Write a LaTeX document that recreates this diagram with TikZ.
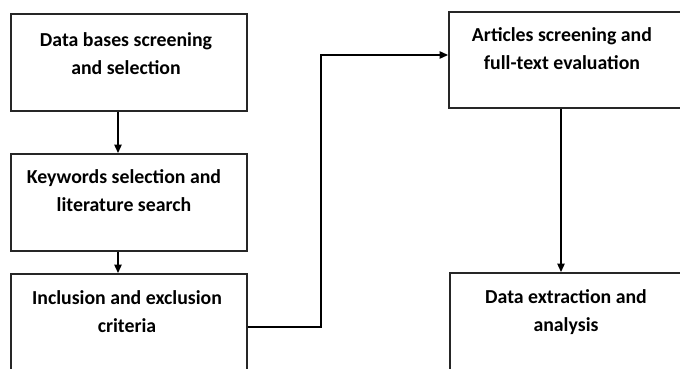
\documentclass[tikz,border=0pt]{standalone}
\usepackage{fontspec}
\setmainfont{Carlito}
\usetikzlibrary{arrows.meta}
\begin{document}
\begin{tikzpicture}[x=1pt,y=-1pt,
  box/.style={draw=black!85, line width=1.6pt, rectangle, inner sep=0pt},
  lbl/.style={font=\bfseries\fontsize{19.8}{28}\selectfont, align=center, anchor=north, inner sep=0pt},
  conn/.style={line width=1.3pt, -{Triangle[length=8.5pt,width=7.5pt]}}]
\useasboundingbox (0,0) rectangle (680,369);
\clip (0,0) rectangle (680,369);
\fill[white] (0,0) rectangle (680,369);
% boxes
\node[box, minimum width=236, minimum height=97, anchor=north west] (b1) at (10,13) {};
\node[box, minimum width=236, minimum height=97, anchor=north west] (b2) at (10,153) {};
\node[box, minimum width=236, minimum height=110, anchor=north west] (b3) at (10,273) {};
\node[box, minimum width=236, minimum height=96, anchor=north west] (b4) at (448,11) {};
\node[box, minimum width=236, minimum height=110, anchor=north west] (b5) at (449,272) {};
% labels
\node[lbl] (t1) at (126,32.5) {Data bases screening\\and selection};
\node[lbl] (t2) at (124,169.5) {Keywords selection and\\literature search};
\node[lbl] (t3) at (127,290.5) {Inclusion and exclusion\\criteria};
\node[lbl] (t4) at (562,27.5) {Articles screening and\\full-text evaluation};
\node[lbl] (t5) at (566,289.5) {Data extraction and\\analysis};
% connectors
\coordinate (c1) at (118,0);
\coordinate (c2) at (561,0);
\draw[conn] (b1.south -| c1) -- (b2.north -| c1);
\draw[conn] (b2.south -| c1) -- (b3.north -| c1);
\coordinate (m) at (321,327);
\coordinate (n) at (321,55);
\draw[conn] (b3.east |- m) -- (m) -- (n) -- (b4.west |- n);
\draw[conn] (b4.south -| c2) -- (b5.north -| c2);
\end{tikzpicture}
\end{document}
